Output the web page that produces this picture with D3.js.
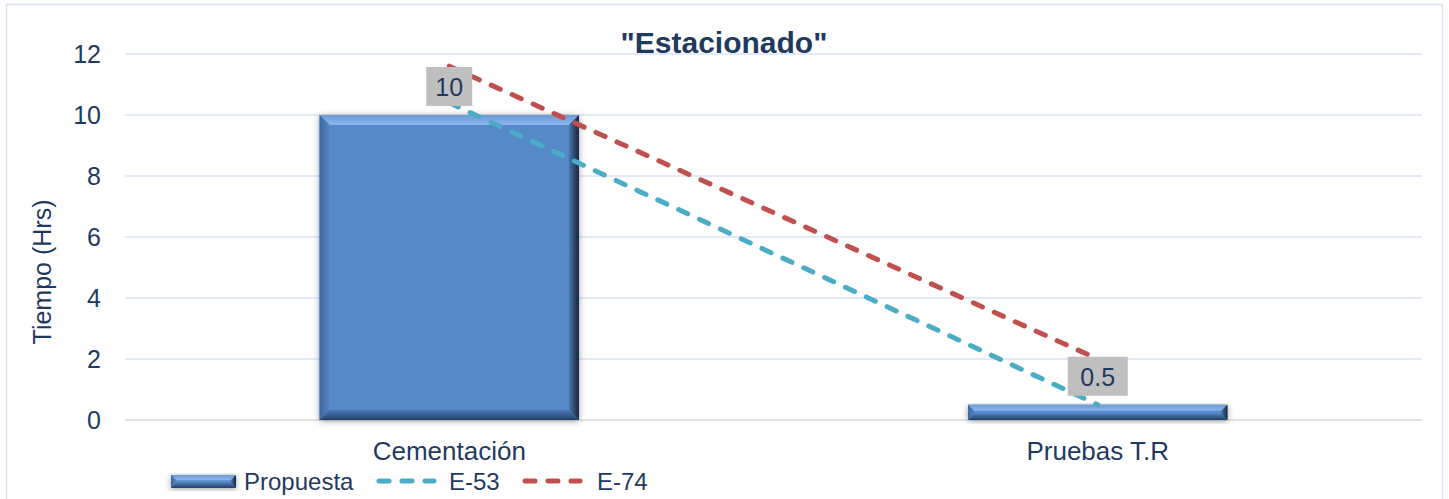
<!DOCTYPE html>
<html>
<head>
<meta charset="utf-8">
<script src="https://cdn.jsdelivr.net/npm/d3@7"></script>
<style>
  body { margin: 0; background: #fff; }
  text { font-family: "Liberation Sans", Arial, sans-serif; }
</style>
</head>
<body>
<svg width="1449" height="499"></svg>
<script>
let categories = ["Cementación", "Pruebas T.R"];
let propuesta  = [10, 0.5];
let e53        = [10.4, 0.5];
let e74        = [11.6, 2.0];
let yTicks     = [0, 2, 4, 6, 8, 10, 12];

let TEXT = "#1f3a60",
    BLUE = "#5789c8",
    CYAN = "#4bacc6",
    RED  = "#c0504d";

let margin = {top: 54, right: 27, bottom: 79, left: 125};
let W = 1449, H = 499;

let svg = d3.select("svg");

let defs = svg.append("defs");
let f = defs.append("filter").attr("id", "shadow")
            .attr("x", "-10%").attr("y", "-10%").attr("width", "120%").attr("height", "130%");
f.append("feDropShadow").attr("dx", 0).attr("dy", 1).attr("stdDeviation", 3)
 .attr("flood-color", "#000").attr("flood-opacity", 0.4);

function grad(id, x2, y2, c1, c2) {
    let g = defs.append("linearGradient").attr("id", id)
                .attr("x1", 0).attr("y1", 0).attr("x2", x2).attr("y2", y2);
    g.append("stop").attr("offset", 0).attr("stop-color", c1);
    g.append("stop").attr("offset", 1).attr("stop-color", c2);
}
grad("gTop", 0, 1, "#6d9ad6", "#8cb6ee");
grad("gLeft", 1, 0, "#3d679f", "#5584c2");
grad("gRight", 1, 0, "#4a76b0", "#15243a");
grad("gBottom", 0, 1, "#4d7ab6", "#24406a");

// outer frame
svg.append("rect")
   .attr("x", 6.5).attr("y", 4.5).attr("width", 1436).attr("height", 520)
   .attr("fill", "none").attr("stroke", "#d9e2f0").attr("stroke-width", 1.5);

let x = d3.scaleBand()
          .domain(categories)
          .range([margin.left, W - margin.right])
          .paddingInner(0.6)
          .paddingOuter(0.3);

let y = d3.scaleLinear().domain([0, 12]).range([420, 54]);

// gridlines
svg.append("g")
   .selectAll("line")
   .data(yTicks)
   .enter().append("line")
   .attr("x1", margin.left).attr("x2", W - margin.right)
   .attr("y1", d => y(d)).attr("y2", d => y(d))
   .attr("stroke", d => d === 0 ? "#d9d9d9" : "#dae3f3")
   .attr("stroke-width", 1.5);

// y tick labels
svg.append("g")
   .selectAll("text")
   .data(yTicks)
   .enter().append("text")
   .attr("x", 101).attr("y", d => y(d) + 9)
   .attr("text-anchor", "end")
   .attr("font-size", 25).attr("fill", TEXT)
   .text(d => d);

svg.append("text")
   .attr("transform", "translate(51,272) rotate(-90)")
   .attr("text-anchor", "middle")
   .attr("font-size", 25).attr("fill", TEXT)
   .text("Tiempo (Hrs)");

// x labels
svg.append("g")
   .selectAll("text")
   .data(categories)
   .enter().append("text")
   .attr("x", d => x(d) + x.bandwidth() / 2).attr("y", 460)
   .attr("text-anchor", "middle")
   .attr("font-size", 26).attr("fill", TEXT)
   .text(d => d);

// bevelled bar
function bevelBar(g, bx, by, bw, bh) {
    let b = Math.min(10, bh / 2.5);
    let bar = g.append("g");
    bar.append("rect")
       .attr("x", bx).attr("y", by).attr("width", bw).attr("height", bh)
       .attr("fill", BLUE).attr("filter", "url(#shadow)");
    bar.append("polygon")
       .attr("points", [[bx, by], [bx + bw, by], [bx + bw - b, by + b], [bx + b, by + b]].join(" "))
       .attr("fill", "url(#gTop)");
    bar.append("polygon")
       .attr("points", [[bx, by], [bx + b, by + b], [bx + b, by + bh - b], [bx, by + bh]].join(" "))
       .attr("fill", "url(#gLeft)");
    bar.append("polygon")
       .attr("points", [[bx + bw, by], [bx + bw, by + bh], [bx + bw - b, by + bh - b], [bx + bw - b, by + b]].join(" "))
       .attr("fill", "url(#gRight)");
    bar.append("polygon")
       .attr("points", [[bx, by + bh], [bx + bw, by + bh], [bx + bw - b, by + bh - b], [bx + b, by + bh - b]].join(" "))
       .attr("fill", "url(#gBottom)");
}

let bars = svg.append("g");
categories.forEach((c, i) => {
    bevelBar(bars, x(c), y(propuesta[i]), x.bandwidth(), y(0) - y(propuesta[i]));
});

// dashed lines
let line = d3.line()
             .x((d, i) => x(categories[i]) + x.bandwidth() / 2)
             .y(d => y(d));

[[e53, CYAN], [e74, RED]].forEach(s => {
    svg.append("path")
       .datum(s[0])
       .attr("d", line)
       .attr("fill", "none")
       .attr("stroke", s[1])
       .attr("stroke-width", 5)
       .attr("stroke-linecap", "round")
       .attr("stroke-dasharray", "10,13");
});

// data labels
categories.forEach((c, i) => {
    let cx = x(c) + x.bandwidth() / 2;
    let txt = String(propuesta[i]);
    let w = txt.length * 14 + 18;
    let ty = y(propuesta[i]) - 28;
    svg.append("rect")
       .attr("x", cx - w / 2).attr("y", ty - 20).attr("width", w).attr("height", 39)
       .attr("fill", "#bfbfbf");
    svg.append("text")
       .attr("x", cx).attr("y", ty + 9)
       .attr("text-anchor", "middle")
       .attr("font-size", 25).attr("fill", TEXT)
       .text(txt);
});

// title
svg.append("text")
   .attr("x", 724).attr("y", 53)
   .attr("text-anchor", "middle")
   .attr("font-size", 30).attr("font-weight", "bold").attr("fill", TEXT)
   .text("\"Estacionado\"");

// legend
let lg = svg.append("g");
bevelBar(lg, 171, 475, 65, 13);
lg.append("text").attr("x", 244).attr("y", 490).attr("font-size", 24).attr("fill", TEXT).text("Propuesta");
lg.append("line").attr("x1", 379).attr("x2", 434).attr("y1", 481).attr("y2", 481)
  .attr("stroke", CYAN).attr("stroke-width", 5).attr("stroke-dasharray", "10,13").attr("stroke-linecap", "round");
lg.append("text").attr("x", 449).attr("y", 490).attr("font-size", 24).attr("fill", TEXT).text("E-53");
lg.append("line").attr("x1", 525).attr("x2", 580).attr("y1", 481).attr("y2", 481)
  .attr("stroke", RED).attr("stroke-width", 5).attr("stroke-dasharray", "10,13").attr("stroke-linecap", "round");
lg.append("text").attr("x", 597).attr("y", 490).attr("font-size", 24).attr("fill", TEXT).text("E-74");
</script>
</body>
</html>
